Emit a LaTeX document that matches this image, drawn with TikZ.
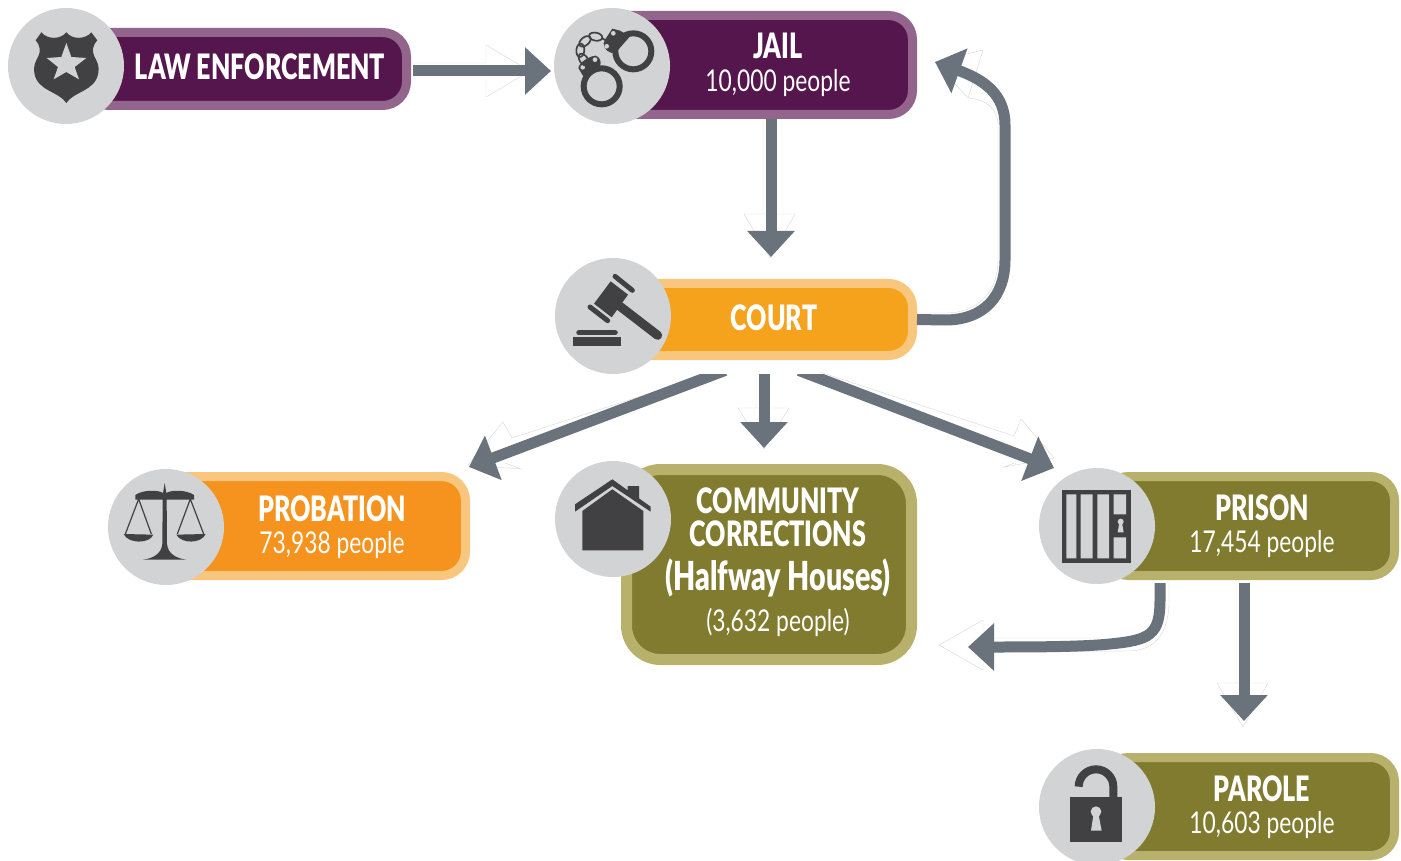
\documentclass[tikz,border=0pt]{standalone}
\usepackage{fontspec}
\setmainfont{Lato}[FakeStretch=0.76]
\newfontfamily\titlefam{Lato Black}[FakeStretch=0.715]
\usetikzlibrary{arrows.meta,calc}
\definecolor{purpfill}{HTML}{55164D}
\definecolor{purpedge}{HTML}{93658D}
\definecolor{courtfill}{HTML}{F5A21D}
\definecolor{orfill}{HTML}{F6931F}
\definecolor{oredge}{HTML}{F8C67C}
\definecolor{olfill}{HTML}{817B30}
\definecolor{oledge}{HTML}{B7B16B}
\definecolor{flowc}{HTML}{6A737C}
\definecolor{disc}{HTML}{D1D3D4}
\definecolor{iconc}{HTML}{414042}
\newcommand{\ftitle}{\titlefam\fontsize{35}{36}\selectfont}
\newcommand{\fbig}{\titlefam\fontsize{40}{40}\selectfont}
\newcommand{\fsub}{\fontsize{30}{34}\selectfont}
\tikzset{
  barbox/.style={draw=#1,line width=9pt,inner sep=0pt,rounded corners=24pt},
  icondisc/.style={circle,fill=disc,minimum size=116pt,inner sep=0pt,outer sep=0pt},
  boxlabel/.style={text=white,align=center,inner sep=0pt},
  flow/.style={draw=flowc,line width=11pt,-{Triangle[width=46pt,length=26pt]}},
  ghost/.style={draw=black!16,line width=.4pt,line join=miter},
  iconarea/.style={x=0.33333pt,y=-0.33333pt},
}
\begin{document}
\begin{tikzpicture}[x=1pt,y=-1pt]
\useasboundingbox (0,0) rectangle (1401,861);
% faint outlines behind the arrows
\draw[ghost] (412,63)--(486,63)--(486,45)--(530,71)--(486,97)--(486,79);
\draw[ghost] (763,119)--(763,214)--(744,214)--(770,258)--(795,214)--(763,214);
\draw[ghost] (917,313)--(945,313) .. controls (980,313) and (998,290) .. (998,260)--(998,125) .. controls (998,112) and (990,100) .. (968,98)--(983,50)--(935,62)--(968,98);
\draw[ghost] (709,374)--(512,438)--(503,422)--(468,465)--(521,469)--(505,463);
\draw[ghost] (756,374)--(756,408)--(738,408)--(764,449)--(789,408)--(756,408);
\draw[ghost] (820,372)--(1014,436)--(1021,419)--(1054,458)--(1004,467)--(1014,463);
\draw[ghost] (1169,580)--(1169,605) .. controls (1167,640) and (1150,650) .. (1130,651)--(983,652)--(983,670)--(939,645)--(983,620)--(983,638)--(1100,638);
\draw[ghost] (1236,580)--(1236,683)--(1217,683)--(1243,727)--(1268,683)--(1236,683);
% boxes
\node[barbox=purpedge,fill=purpfill,minimum width=322pt,minimum height=73pt] (lawbar) at (245.5,69) {};
\node[barbox=purpedge,fill=purpfill,minimum width=318pt,minimum height=99pt] (jailbar) at (753.5,65) {};
\node[barbox=oredge,fill=courtfill,minimum width=318pt,minimum height=72pt] (courtbar) at (753.5,319.5) {};
\node[barbox=oredge,fill=orfill,minimum width=311pt,minimum height=99pt] (probbar) at (310,526) {};
\node[barbox=oledge,fill=olfill,line width=11pt,rounded corners=34pt,minimum width=285pt,minimum height=190pt] (commbar) at (769,564.5) {};
\node[barbox=oledge,fill=olfill,minimum width=290pt,minimum height=99pt] (prisonbar) at (1249.5,526) {};
\node[barbox=oledge,fill=olfill,minimum width=290pt,minimum height=98pt] (parolebar) at (1249.5,806.5) {};
% discs
\node[icondisc] (lawicon) at (66,66) {};
\node[icondisc] (jailicon) at (612,66) {};
\node[icondisc] (courticon) at (613,316) {};
\node[icondisc] (probicon) at (166,527) {};
\node[icondisc] (commicon) at (613,519) {};
\node[icondisc] (prisonicon) at (1097,526) {};
\node[icondisc] (paroleicon) at (1097,807) {};
% badge
\begin{scope}[shift={(9,8)},iconarea]
\fill[iconc] (172,73) .. controls (155,95) and (115,95) .. (97,73) -- (80,97) .. controls (95,115) and (95,130) .. (88,145) .. controls (80,160) and (72,175) .. (76,195) .. controls (85,250) and (150,250) .. (172,285) .. controls (194,250) and (259,250) .. (268,195) .. controls (272,175) and (264,160) .. (256,145) .. controls (249,130) and (249,115) .. (265,97) -- (247,73) .. controls (229,95) and (189,95) .. (172,73) -- cycle;
\fill[disc] (172,105)--(187,147)--(232,150)--(197,177)--(210,214)--(172,192)--(134,214)--(147,177)--(113,150)--(157,147)--cycle;
\end{scope}
% handcuffs
\begin{scope}[shift={(555,8)},iconarea]
\draw[iconc,line width=6pt] (235,130) circle (54);
\draw[iconc,line width=6pt] (140,235) circle (54);
\fill[iconc] (150,95) -- (172,62) -- (195,68) -- (225,85) -- (190,125) -- (170,135) .. controls (150,130) and (140,110) .. (150,95) -- cycle;
\fill[iconc] (70,180) .. controls (72,165) and (100,145) .. (122,143) .. controls (135,148) and (140,160) .. (135,175) -- (85,205) -- cycle;
\fill[disc] (175,76) circle (7) (155,115) circle (7) (120,155) circle (7) (83,178) circle (7);
\foreach \cx/\cy/\rot in {122/86/-10,90/100/40,76/127/85,86/155/-55}
  \draw[iconc,line width=1.7pt,rotate around={\rot:(\cx,\cy)}] (\cx,\cy) ellipse (20 and 12);
\draw[iconc,line width=1.7pt] (140,90)--(152,97);
\end{scope}
% gavel
\begin{scope}[shift={(555,258)},iconarea]
\fill[iconc] (167,70)--(219,110)--(170,178)--(117,137)--cycle;
\draw[iconc,line width=5pt,line cap=round] (180,55)--(232,97);
\draw[iconc,line width=5pt,line cap=round] (105,147)--(158,188);
\draw[iconc,line width=9pt,line cap=round] (195,145)--(308,232);
\draw[iconc,line width=5.5pt,line cap=round] (72,224)--(180,224);
\fill[iconc] (55,237) rectangle (197,265);
\end{scope}
% scales
\begin{scope}[shift={(108,469)},iconarea]
\fill[iconc] (170,42) -- (175,72) .. controls (190,62) and (235,62) .. (258,78) -- (258,92) -- (176,92) -- (177,225) .. controls (180,255) and (205,268) .. (235,272) -- (105,272) .. controls (135,268) and (160,255) .. (163,225) -- (164,92) -- (82,92) -- (82,78) .. controls (105,62) and (150,62) .. (165,72) -- cycle;
\draw[iconc,line width=1.2pt] (52,195)--(92,90)--(130,195);
\draw[iconc,line width=1.2pt] (208,195)--(247,90)--(287,195);
\fill[iconc] (47,195) .. controls (60,225) and (125,225) .. (136,197) -- cycle;
\fill[iconc] (205,197) .. controls (220,225) and (280,225) .. (293,195) -- cycle;
\end{scope}
% house
\begin{scope}[shift={(555,461)},iconarea]
\fill[iconc] (172,85)--(265,150)--(265,268)--(82,268)--(82,150)--cycle;
\fill[iconc] (172,55)--(218,88)--(218,75)--(252,75)--(252,112)--(287,137)--(287,152)--(172,75)--(60,152)--(60,130)--cycle;
\end{scope}
% prison bars
\begin{scope}[shift={(960,400)},iconarea]
\fill[iconc] (305,270) rectangle (512,488);
\fill[disc] (319,283) rectangle (349,475) (362,283) rectangle (398,475) (412,283) rectangle (447,475) (461,283) rectangle (498,343) (461,412) rectangle (498,475);
\fill[disc] (482,365) circle (9);
\fill[disc] (478,368)--(486,368)--(491,397)--(473,397)--cycle;
\end{scope}
% padlock
\begin{scope}[shift={(930,450)},iconarea]
\fill[iconc] (421,1040) rectangle (577,1177);
\draw[iconc,line width=8pt] (446,1010) arc (180:360:52) -- (550,1045);
\fill[disc] (498,1085) circle (16);
\fill[disc] (491,1090)--(505,1090)--(515,1142)--(483,1142)--cycle;
\end{scope}
% connectors
\draw[flow] ([shift={(2,2)}]lawbar.east) -- ([shift={(-3,5)}]jailicon.west);
\draw[flow] ([shift={(17.5,0)}]jailbar.south) -- ([shift={(17.5,-22)}]courtbar.north);
\coordinate (loopa) at (945,320);
\coordinate (loopb) at (1005,260);
\coordinate (loopc) at (1005,125);
\draw[flow] (courtbar.east) -- (loopa) .. controls (985,320) and (1005,295) .. (loopb) -- (loopc) .. controls (1005,95) and (985,80) .. ([shift={(18,-3)}]jailbar.east);
\begin{scope}
\clip (0,374) rectangle (1401,861);
\draw[flow] ([shift={(-28.5,10.5)}]courtbar.south) -- ([shift={(-1,-59)}]probbar.east);
\draw[flow] ([shift={(10.5,10)}]courtbar.south) -- ([shift={(-5,-16)}]commbar.north);
\draw[flow] ([shift={(45.5,10.5)}]courtbar.south) -- ([shift={(-43,-58)}]prisonicon.center);
\end{scope}
\coordinate (backa) at (1160,600);
\coordinate (backb) at (1110,644);
\draw[flow] ([shift={(-89.5,3)}]prisonbar.south) -- (backa) .. controls (1160,635) and (1150,640) .. (backb) .. controls (1080,647) and (1030,647) .. ([shift={(51,82.5)}]commbar.east);
\draw[flow] ([shift={(-5.5,3)}]prisonbar.south) -- ([shift={(-5.5,-32)}]parolebar.north);
% labels
\node[boxlabel] (lawtext) at (260,67) {\ftitle LAW ENFORCEMENT};
\node[boxlabel] (jailtext) at (778,65) {\ftitle JAIL\\[9pt]\fsub 10,000 people};
\node[boxlabel] (courttext) at (774,318) {\ftitle COURT};
\node[boxlabel] (probtext) at (332,527) {\ftitle PROBATION\\[9pt]\fsub 73,938 people};
\node[boxlabel] (commtext) at (778,562.5) {\ftitle COMMUNITY\\[6pt]\ftitle CORRECTIONS\\[11pt]\fbig (Halfway Houses)\\[10pt]\fsub (3,632 people)};
\node[boxlabel] (prisontext) at (1262,526) {\ftitle PRISON\\[9pt]\fsub 17,454 people};
\node[boxlabel] (paroletext) at (1262,807) {\ftitle PAROLE\\[9pt]\fsub 10,603 people};
\end{tikzpicture}
\end{document}
